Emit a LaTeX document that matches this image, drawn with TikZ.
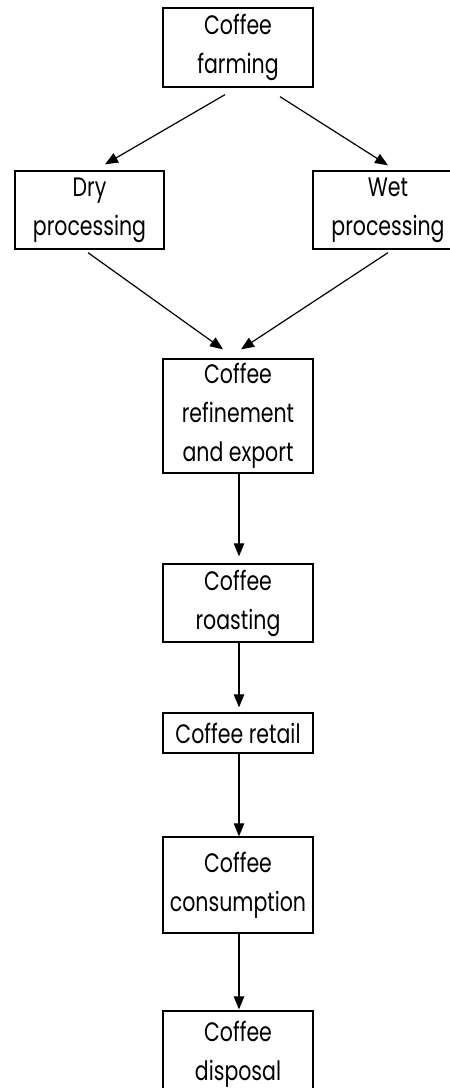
\documentclass[tikz,border=0pt]{standalone}
\usepackage{fontspec}
\setmainfont{Poppins}
\usetikzlibrary{arrows.meta}
\newcommand\vs[1]{\scalebox{1}[1.3]{#1}}
\tikzset{
  stage/.style={draw, line width=1.3pt, inner sep=0pt, minimum width=150pt, align=center,
    font=\fontsize{20.5}{39}\selectfont},
  flow/.style={line width=1.2pt, -{Triangle[length=13pt,width=10.5pt]}}
}
\begin{document}
\begin{tikzpicture}[x=1pt,y=-1pt]
\useasboundingbox (0,0) rectangle (450,1088);
\clip (0,0) rectangle (450,1088);
\node[stage, minimum height=79pt] (farm) at (238,47.5) {\vs{Coffee}\\\vs{farming}};
\node[stage, minimum height=78pt, minimum width=149pt] (dry) at (89.5,210) {\vs{Dry}\\\vs{processing}};
\node[stage, minimum height=78pt] (wet) at (388,210) {\vs{Wet}\\\vs{processing}};
\node[stage, minimum height=114pt] (ref) at (238,416) {\vs{Coffee}\\\vs{refinement}\\\vs{and export}};
\node[stage, minimum height=78pt] (roast) at (238,603) {\vs{Coffee}\\\vs{roasting}};
\node[stage, minimum height=40pt] (retail) at (238,733) {\vs{Coffee retail}};
\node[stage, minimum height=96pt] (cons) at (238,885) {\vs{Coffee}\\\vs{consumption}};
\node[stage, minimum height=86pt] (disp) at (238,1054) {\vs{Coffee}\\\vs{disposal}};

\draw[flow] ([shift={(-13,7)}]farm.south) -- ([shift={(15.5,-6)}]dry.north);
\draw[flow] ([shift={(42,9)}]farm.south) -- ([shift={(0,-5)}]wet.north);
\draw[flow] ([shift={(-1.5,3)}]dry.south) -- ([shift={(-15,-9)}]ref.north);
\draw[flow] ([shift={(0,3)}]wet.south) -- ([shift={(3,-9)}]ref.north);
\draw[flow] ([xshift=1pt]ref.south) -- ([shift={(1,-7)}]roast.north);
\draw[flow] ([xshift=1pt]roast.south) -- ([shift={(1,-5)}]retail.north);
\draw[flow] ([xshift=1pt]retail.south) -- ([xshift=1pt]cons.north);
\draw[flow] ([xshift=1pt]cons.south) -- ([shift={(1,-1)}]disp.north);
\end{tikzpicture}
\end{document}
